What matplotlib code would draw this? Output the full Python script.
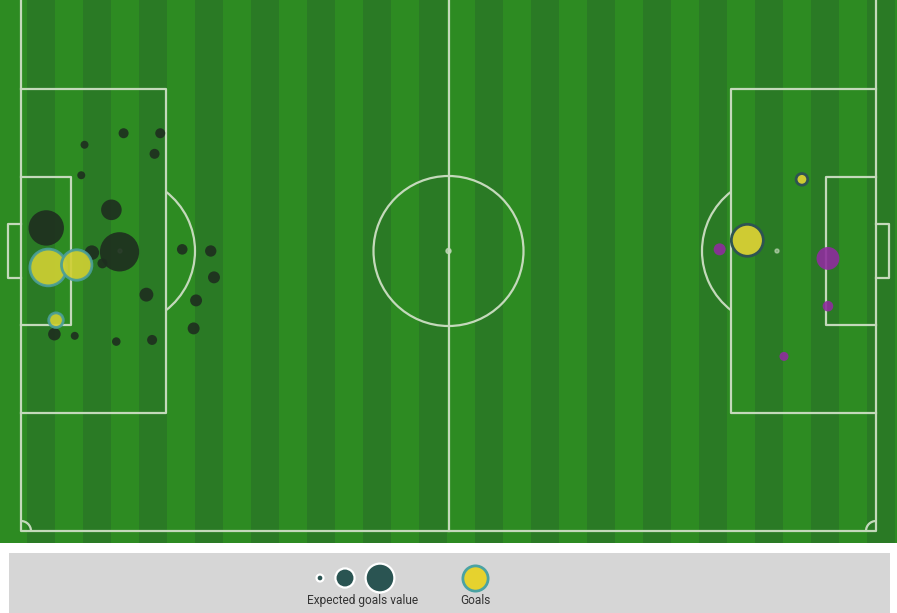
import numpy as np
import matplotlib
matplotlib.use('Agg')
import matplotlib.pyplot as plt
from matplotlib.patches import Rectangle, Arc, Ellipse

plt.rcParams['font.family'] = ['Roboto', 'DejaVu Sans']

# shots by the home side (attacking the left goal), metres from left goal line / top touchline
home_x = [12.6, 17.1, 7.8, 16.4, 7.4, 11.1, 3.1, 12.1, 8.7, 10.0,
          19.8, 23.3, 23.7, 15.4, 21.5, 21.2, 4.1, 6.6, 11.7, 16.1]
home_y = [19.7, 19.7, 21.1, 22.2, 24.8, 29.0, 31.2, 34.1, 34.2, 35.5,
          33.8, 34.0, 37.2, 39.3, 40.0, 43.4, 44.1, 44.3, 45.0, 44.8]
home_xg = [0.052, 0.052, 0.033, 0.052, 0.033, 0.22, 0.65, 0.80, 0.11, 0.052,
           0.058, 0.067, 0.074, 0.10, 0.074, 0.074, 0.082, 0.033, 0.038, 0.052]

home_goal_x = [3.35, 6.84, 4.30]
home_goal_y = [36.0, 35.7, 42.4]
home_goal_xg = [0.70, 0.48, 0.11]

# shots by the away side (attacking the right goal)
away_x = [85.8, 99.1, 99.1, 93.7]
away_y = [33.8, 34.9, 40.7, 46.8]
away_xg = [0.074, 0.27, 0.058, 0.042]

away_goal_x = [89.2, 95.9]
away_goal_y = [32.7, 25.3]
away_goal_xg = [0.53, 0.07]

legend_xg = [0.025, 0.19, 0.43]

# pitch scale in pixels per metre
SX = 855 / 105
SY = 560 / 68
PITCH_L, PITCH_W = 105, 68
LINE = '#c4d9bb'
LIGHT = '#2d8b22'
DARK = '#2a7a25'

fig = plt.figure(figsize=(8.97, 6.13), dpi=100)
fig.patch.set_facecolor('white')

ax = fig.add_axes([0, 70 / 613, 1, 543 / 613])
ax.set_xlim(-21 / SX, 876 / SX)
ax.set_ylim((543 + 29) / SY, 29 / SY)
ax.axis('off')
ax.set_facecolor(LIGHT)
ax.add_patch(Rectangle((-10, -10), 130, 90, color=LIGHT, zorder=0))

# mowing stripes, 28 px wide
for k in range(16):
    x0 = (27 + 56 * k - 21) / SX
    ax.add_patch(Rectangle((x0, -10), 28 / SX, 90, color=DARK, lw=0, zorder=0))

lw = 1.6
kw = dict(color=LINE, lw=lw, zorder=1)
ax.plot([0, PITCH_L, PITCH_L, 0, 0], [0, 0, PITCH_W, PITCH_W, 0], **kw)
ax.plot([52.5, 52.5], [0, PITCH_W], **kw)

mid = PITCH_W / 2
r = 75 / SX
ax.add_patch(Ellipse((52.5, mid), 2 * r, 2 * r * SX / SY, fill=False, ec=LINE, lw=lw, zorder=1))
ax.add_patch(Ellipse((52.5, mid), 5 / SX, 5 / SY, color=LINE, alpha=0.8, zorder=1))

box_d, box_h = 145 / SX, 19.67
six_d, six_h = 50 / SX, 9.0
goal_d, goal_h = 13 / SX, 3.22
spot = 99 / SX
for side in (0, 1):
    s = 1 if side == 0 else -1
    gx = 0 if side == 0 else PITCH_L
    ax.plot([gx, gx + s * box_d, gx + s * box_d, gx], [mid - box_h, mid - box_h, mid + box_h, mid + box_h], **kw)
    ax.plot([gx, gx + s * six_d, gx + s * six_d, gx], [mid - six_h, mid - six_h, mid + six_h, mid + six_h], **kw)
    ax.plot([gx, gx - s * goal_d, gx - s * goal_d, gx], [mid - goal_h, mid - goal_h, mid + goal_h, mid + goal_h], **kw)
    sp = gx + s * spot
    ax.add_patch(Ellipse((sp, mid), 4 / SX, 4 / SY, color=LINE, alpha=0.6, zorder=1))
    ang = np.degrees(np.arccos((box_d - spot) / r))
    if side == 0:
        ax.add_patch(Arc((sp, mid), 2 * r, 2 * r * SX / SY, theta1=-ang, theta2=ang, ec=LINE, lw=lw, zorder=1))
    else:
        ax.add_patch(Arc((sp, mid), 2 * r, 2 * r * SX / SY, theta1=180 - ang, theta2=180 + ang, ec=LINE, lw=lw, zorder=1))
    # bottom corner arcs
    cr = 10 / SX
    if side == 0:
        ax.add_patch(Arc((gx, PITCH_W), 2 * cr, 2 * cr * SX / SY, theta1=270, theta2=360, ec=LINE, lw=lw, zorder=1))
    else:
        ax.add_patch(Arc((gx, PITCH_W), 2 * cr, 2 * cr * SX / SY, theta1=180, theta2=270, ec=LINE, lw=lw, zorder=1))


def size(xg):
    return [1000 * v for v in xg]


ax.scatter(home_x, home_y, s=size(home_xg), c='#1e2e1f', alpha=0.9, lw=0, zorder=3)
ax.scatter(home_goal_x, home_goal_y, s=size(home_goal_xg), c='#cfcf33', alpha=0.92,
           edgecolors='#4a9e98', lw=2, zorder=4)
ax.scatter(away_x, away_y, s=size(away_xg), c='#8f2d9e', alpha=0.9, lw=0, zorder=3)
ax.scatter(away_goal_x, away_goal_y, s=size(away_goal_xg), c='#cfcb33',
           edgecolors='#2e5452', lw=2, zorder=4)

# legend strip
lax = fig.add_axes([0, 0, 1, 70 / 613])
lax.set_xlim(0, 897)
lax.set_ylim(613, 543)
lax.axis('off')
lax.add_patch(Rectangle((9, 553), 881, 60, color='#d6d6d6', lw=0))
lax.scatter([320, 345, 380], [578, 578, 578], s=size(legend_xg), c='#2a5452',
            edgecolors='white', lw=1.6, zorder=3)
lax.scatter([475], [578], s=330, c='#e6d22e', edgecolors='#4ba3a3', lw=2, zorder=3)
lax.text(363, 600, 'Expected goals value', ha='center', va='center', fontsize=8.6, color='#333333')
lax.text(475, 600, 'Goals', ha='center', va='center', fontsize=8.6, color='#333333')

fig.savefig('out.png', dpi=100)
